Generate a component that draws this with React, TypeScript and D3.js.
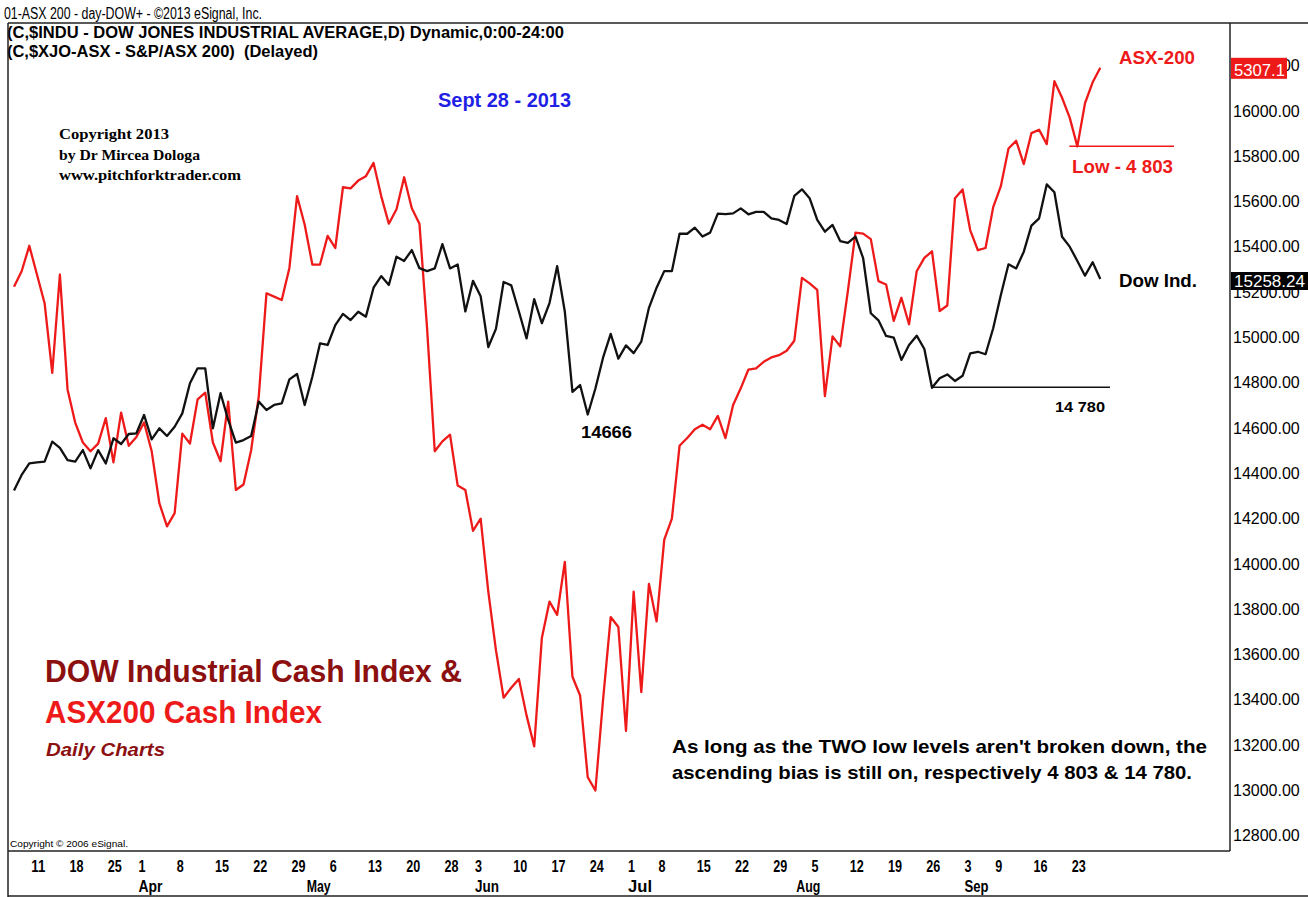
import React from "react";
import * as d3 from "d3";

// trading calendar (NYSE), Mar 7 - Sep 27 2013
const holidays = ["2013-03-29", "2013-05-27", "2013-07-04", "2013-09-02"];
const firstDay = new Date(2013, 2, 7);
const lastDay = new Date(2013, 8, 27);

// daily closes
const dowClose = [
  14324, 14393, 14444, 14449, 14452, 14540, 14513, 14459, 14452, 14503,
  14422, 14503, 14444, 14555, 14530, 14574, 14577, 14658, 14550, 14599,
  14565, 14606, 14665, 14798, 14864, 14864, 14599, 14754, 14636, 14536,
  14547, 14565, 14717, 14680, 14702, 14709, 14815, 14839, 14702, 14827,
  14974, 14967, 15055, 15104, 15077, 15114, 15092, 15220, 15271, 15232,
  15357, 15338, 15386, 15306, 15293, 15305, 15412, 15305, 15322, 15115,
  15250, 15182, 14958, 15038, 15245, 15230, 15115, 14996, 15169, 15063,
  15152, 15315, 15115, 14760, 14790, 14660, 14775, 14911, 15016, 14907,
  14965, 14931, 14982, 15131, 15220, 15293, 15293, 15458, 15458, 15485,
  15446, 15463, 15547, 15545, 15548, 15570, 15544, 15555, 15555, 15526,
  15519, 15501, 15625, 15654, 15615, 15519, 15467, 15497, 15426, 15418,
  15445, 15350, 15107, 15076, 15007, 14999, 14901, 14967, 15008, 14949,
  14778, 14820, 14837, 14808, 14831, 14930, 14937, 14926, 15041, 15188,
  15323, 15305, 15379, 15494, 15526, 15676, 15641, 15445, 15401, 15338,
  15273, 15332, 15258.24,
];

const asxClose = [
  5109, 5123, 5146, 5120, 5094, 5031, 5120, 5016, 4986, 4968,
  4960, 4967, 4990, 4950, 4995, 4965, 4973, 4986, 4960, 4913,
  4892, 4904, 4976, 4967, 5007, 5013, 4968, 4951, 5005, 4925,
  4930, 4961, 5010, 5103, 5100, 5097, 5126, 5191, 5165, 5129,
  5129, 5155, 5144, 5199, 5198, 5205, 5209, 5221, 5191, 5166,
  5179, 5208, 5180, 5166, 5071, 4960, 4969, 4975, 4929, 4925,
  4888, 4899, 4833, 4780, 4737, 4746, 4754, 4721, 4693, 4791,
  4824, 4812, 4860, 4756, 4739, 4665, 4653, 4735, 4810, 4801,
  4707, 4833, 4742, 4840, 4806, 4880, 4899, 4965, 4972, 4980,
  4984, 4980, 4992, 4972, 5002, 5017, 5034, 5035, 5041, 5045,
  5047, 5051, 5060, 5117, 5112, 5106, 5010, 5064, 5055, 5105,
  5158, 5157, 5152, 5114, 5111, 5078, 5099, 5075, 5123, 5135,
  5141, 5087, 5092, 5189, 5197, 5160, 5142, 5144, 5181, 5200,
  5234, 5241, 5220, 5248, 5251, 5238, 5295, 5280, 5262, 5236,
  5275, 5294, 5307.1,
];

const dowTicks = [12800, 13000, 13200, 13400, 13600, 13800, 14000, 14200, 14400,
  14600, 14800, 15000, 15200, 15400, 15600, 15800, 16000, 16200];

const dowLow = 14780;
const asxLowLabel = "Low - 4 803";

const sans = "'Liberation Sans', Arial, sans-serif";
const narrow = "'Liberation Sans Narrow', 'Arial Narrow', 'Liberation Sans', Arial, sans-serif";
const serif = "'Liberation Serif', 'Times New Roman', serif";

const W = 1308;
const H = 897;
const frame = { left: 8, top: 23, right: 1230, bottom: 851 };

const RED = "#ee1a1a";
const DARKRED = "#8c1010";

type TxtProps = {
  x: number; y: number; w?: number; size: number; fill?: string; weight?: string;
  italic?: boolean; family?: string; anchor?: "start" | "middle" | "end"; children: React.ReactNode;
};

const Txt = ({ x, y, w, size, fill = "#000", weight = "bold", italic, family = sans, anchor = "start", children }: TxtProps) => (
  <text
    x={x}
    y={y}
    dominantBaseline="central"
    textAnchor={anchor}
    fontFamily={family}
    fontSize={size}
    fontWeight={weight}
    fontStyle={italic ? "italic" : "normal"}
    fill={fill}
    style={{ whiteSpace: "pre" }}
    {...(w ? { textLength: w, lengthAdjust: "spacingAndGlyphs" } : {})}
  >
    {children}
  </text>
);

export default function App() {
  const fmt = d3.timeFormat("%Y-%m-%d");
  const days = d3.timeDay
    .range(firstDay, d3.timeDay.offset(lastDay, 1))
    .filter((d) => d.getDay() !== 0 && d.getDay() !== 6 && !holidays.includes(fmt(d)));
  const n = Math.min(days.length, dowClose.length, asxClose.length);

  const x = d3.scalePoint<number>().domain(d3.range(n)).range([14, 1100.3]);
  const yDow = d3.scaleLinear().domain([12800, 16200]).range([835.8, 65.7]);
  const yAsx = d3.scaleLinear().domain([4612, 5309]).range([835.8, 65.7]);

  const dowLine = d3.line<number>().x((_, i) => x(i)!).y((d) => yDow(d));
  const asxLine = d3.line<number>().x((_, i) => x(i)!).y((d) => yAsx(d));

  // week ticks on the first trading day of each week, months on the first day of each month
  const weekTicks: number[] = [];
  const monthTicks: number[] = [];
  for (let i = 1; i < n; i++) {
    if (+d3.timeMonday.floor(days[i]) !== +d3.timeMonday.floor(days[i - 1])) weekTicks.push(i);
    if (days[i].getMonth() !== days[i - 1].getMonth()) monthTicks.push(i);
  }
  const monthFmt = d3.timeFormat("%b");

  // annotations
  const dowLowIdx = d3.minIndex(dowClose.slice(115, n)) + 115;
  const junLowIdx = d3.minIndex(dowClose.slice(60, 90)) + 60;
  const asxRecentLowIdx = d3.minIndex(asxClose.slice(136, n)) + 136;
  const lastI = n - 1;

  return (
    <svg width={W} height={H} style={{ position: "absolute", left: 0, top: 0, background: "#fff" }}>
      <rect x={0} y={0} width={W} height={H} fill="#fff" />

      {/* header */}
      <Txt x={4} y={13} w={258} size={16} weight="normal">01-ASX 200 - day-DOW+ - ©2013 eSignal, Inc.</Txt>
      <Txt x={7} y={32} w={557} size={16}>(C,$INDU - DOW JONES INDUSTRIAL AVERAGE,D) Dynamic,0:00-24:00</Txt>
      <Txt x={7} y={51} w={311} size={16}>(C,$XJO-ASX - S&amp;P/ASX 200)  (Delayed)</Txt>

      {/* frames */}
      <line x1={frame.left} x2={W} y1={frame.top} y2={frame.top} stroke="#222" strokeWidth={1.5} />
      <line x1={frame.left} x2={frame.left} y1={frame.top} y2={H} stroke="#222" strokeWidth={1.5} />
      <line x1={frame.right} x2={frame.right} y1={frame.top} y2={frame.bottom} stroke="#222" strokeWidth={1.5} />
      <line x1={frame.left} x2={frame.right} y1={frame.bottom} y2={frame.bottom} stroke="#222" strokeWidth={1.5} />
      <line x1={frame.left} x2={W} y1={H - 1} y2={H - 1} stroke="#222" strokeWidth={1.5} />

      {/* right axis */}
      {dowTicks.map((t) => (
        <Txt key={t} x={1233} y={yDow(t)} size={16} weight="normal">{t.toFixed(2)}</Txt>
      ))}

      {/* x axis */}
      {weekTicks.map((i) => {
        const lbl = String(days[i].getDate());
        return (
          <Txt key={"w" + i} x={x(i)! + 2} y={866} w={lbl.length * 7} size={17} family={narrow}>{lbl}</Txt>
        );
      })}
      {monthTicks.map((i) => (
        <Txt key={"m" + i} x={x(i)! + 2} y={886} w={24} size={17} family={narrow}>{monthFmt(days[i])}</Txt>
      ))}

      <Txt x={10} y={843} w={118} size={9.5} weight="normal">Copyright © 2006 eSignal.</Txt>

      {/* series */}
      <path d={asxLine(asxClose.slice(0, n)) ?? ""} fill="none" stroke={RED} strokeWidth={2.3} strokeLinejoin="round" />
      <path d={dowLine(dowClose.slice(0, n)) ?? ""} fill="none" stroke="#111" strokeWidth={2.3} strokeLinejoin="round" />

      {/* low levels */}
      <line x1={x(dowLowIdx)} x2={1110} y1={yDow(dowLow)} y2={yDow(dowLow)} stroke="#111" strokeWidth={1.5} />
      <Txt x={1055} y={406} w={50} size={15}>14 780</Txt>
      <line x1={x(asxRecentLowIdx)! - 8} x2={1174} y1={yAsx(asxClose[asxRecentLowIdx])} y2={yAsx(asxClose[asxRecentLowIdx])} stroke={RED} strokeWidth={1.5} />
      <Txt x={1072} y={167} w={101} size={18} fill={RED}>{asxLowLabel}</Txt>
      <Txt x={581} y={432} w={51} size={17}>{String(Math.round(dowClose[junLowIdx] + 6))}</Txt>

      {/* series names */}
      <Txt x={1119} y={57} w={76} size={19} fill={RED}>ASX-200</Txt>
      <Txt x={1119} y={281} w={78} size={18}>Dow Ind.</Txt>

      {/* last value tags */}
      <rect x={1231} y={yAsx(asxClose[lastI]) - 10} width={56} height={21} fill={RED} />
      <Txt x={1234} y={yAsx(asxClose[lastI]) + 2.5} w={51} size={16} fill="#fff" weight="normal">{asxClose[lastI].toFixed(1)}</Txt>
      <rect x={1231} y={yDow(dowClose[lastI]) - 7} width={W - 1231} height={18} fill="#000" />
      <Txt x={1234} y={yDow(dowClose[lastI]) + 2} w={71} size={16} fill="#fff" weight="normal">{dowClose[lastI].toFixed(2)}</Txt>

      {/* annotations */}
      <Txt x={438} y={100} w={133} size={20} fill="#1f1fe6">Sept 28 - 2013</Txt>
      <Txt x={59} y={134} w={110} size={15} family={serif}>Copyright 2013</Txt>
      <Txt x={59} y={155} w={141} size={15} family={serif}>by Dr Mircea Dologa</Txt>
      <Txt x={59} y={175} w={182} size={15} family={serif}>www.pitchforktrader.com</Txt>

      <Txt x={45} y={671} w={417} size={32} fill={DARKRED}>DOW Industrial Cash Index &amp;</Txt>
      <Txt x={45} y={712} w={277} size={32} fill={RED}>ASX200 Cash Index</Txt>
      <Txt x={46} y={749} w={119} size={19} fill={DARKRED} italic>Daily Charts</Txt>

      <Txt x={672} y={746} w={535} size={19}>As long as the TWO low levels aren't broken down, the</Txt>
      <Txt x={672} y={772} w={520} size={19}>ascending bias is still on, respectively 4 803 &amp; 14 780.</Txt>
    </svg>
  );
}
